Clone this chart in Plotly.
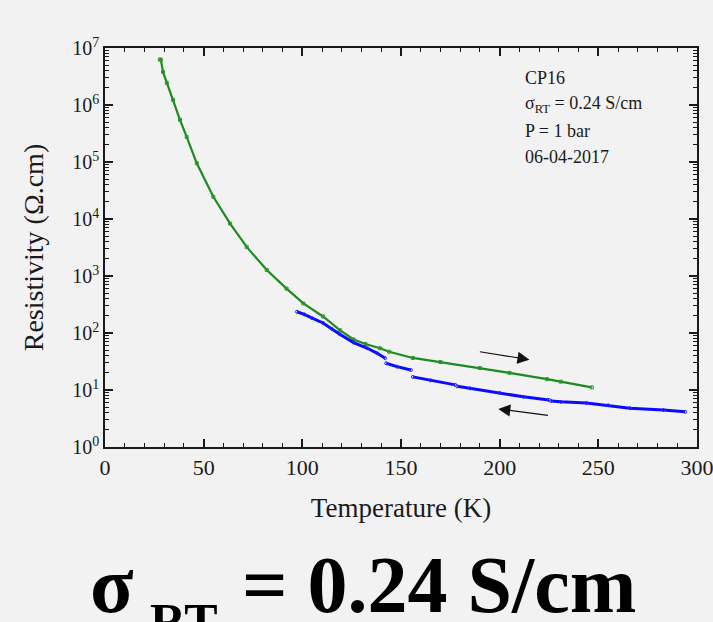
import plotly.graph_objects as go

# ---- data ----
green_T = [27.8, 28.3, 29.4, 31.3, 34.5, 38.0, 41.4, 46.5, 54.9, 63.4, 71.8, 82.0, 92.0,
           100.5, 110.5, 119.0, 126.0, 132.0, 139.4, 144.0, 156.0, 170.0, 190.0, 205.0,
           224.0, 231.0, 246.7]
green_rho = [6.3e6, 6.2e6, 3.8e6, 2.45e6, 1.23e6, 5.5e5, 2.75e5, 9.5e4, 2.45e4, 8.3e3,
             3.24e3, 1.27e3, 6.0e2, 3.3e2, 1.95e2, 1.12e2, 77, 64, 54, 47, 36.5, 31,
             24.3, 20, 15.5, 14.0, 11.1]

blue_T = [97.3, 101.0, 105.0, 110.5, 115.0, 119.0, 126.0, 133.0, 138.0, 142.0, None,
          142.5, 148.0, 155.0, None,
          156.0, 165.0, 177.5, None,
          178.5, 185.0, 200.0, 212.0, 225.0, None,
          226.0, 231.0, 244.0, 255.0, 266.0, 283.0, 294.0]
blue_rho = [236, 212, 182, 150, 118, 95, 68, 54, 44, 36, None,
            29.5, 25.7, 22.4, None,
            17.0, 14.8, 12.3, None,
            11.6, 10.7, 8.9, 7.6, 6.7, None,
            6.4, 6.2, 5.9, 5.4, 4.8, 4.45, 4.15]

y_tickvals = [1e0, 1e1, 1e2, 1e3, 1e4, 1e5, 1e6, 1e7]
y_ticktext = ["10<sup>0</sup>", "10<sup>1</sup>", "10<sup>2</sup>", "10<sup>3</sup>",
              "10<sup>4</sup>", "10<sup>5</sup>", "10<sup>6</sup>", "10<sup>7</sup>"]
x_tickvals = [0, 50, 100, 150, 200, 250, 300]

inset_lines = ["CP16", "σ<sub>RT</sub> = 0.24 S/cm", "P = 1 bar", "06-04-2017"]

# arrows (T, log10 rho): tail -> head
arrow_up = dict(tail=(189.2, 1.675), head=(215.1, 1.532))
arrow_down = dict(tail=(225.2, 0.553), head=(199.3, 0.667))

# ---- layout geometry ----
W, H = 713, 622
L, R, T, B = 105, 697, 48, 447
FONT = "Liberation Serif"
BG = "#f2f2f2"
INK = "#1a1a1a"


def px(xp):
    return (xp - L) / (R - L)


def py(yp):
    return (B - yp) / (B - T)


fig = go.Figure()
fig.add_trace(go.Scatter(
    x=green_T, y=green_rho, mode="lines+markers",
    line=dict(color="#1f8a1f", width=2.2),
    marker=dict(symbol="square-open", size=3, color="#2e962e", line=dict(width=1)),
    showlegend=False))
fig.add_trace(go.Scatter(
    x=blue_T, y=blue_rho, mode="lines+markers", connectgaps=False,
    line=dict(color="#0a0aff", width=3),
    marker=dict(symbol="circle-open", size=3, color="#2a2aff", line=dict(width=1)),
    showlegend=False))

annotations = []
inset_y = [78, 104, 131, 157]
for t, yy in zip(inset_lines, inset_y):
    annotations.append(dict(
        text=t, xref="paper", yref="paper", x=px(523), y=py(yy),
        xanchor="left", yanchor="middle", showarrow=False,
        font=dict(family=FONT, size=18, color=INK)))

for a in (arrow_up, arrow_down):
    annotations.append(dict(
        x=a["head"][0], y=a["head"][1], ax=a["tail"][0], ay=a["tail"][1],
        xref="x", yref="y", axref="x", ayref="y", text="", showarrow=True,
        arrowhead=2, arrowsize=2, arrowwidth=1.2, arrowcolor="#111"))

# big bottom caption
big = 80
annotations.append(dict(text="<b>σ</b>", xref="paper", yref="paper",
                        x=px(88), y=py(585), xanchor="left", yanchor="middle",
                        showarrow=False, font=dict(family=FONT, size=big, color="black")))
annotations.append(dict(text="<b>RT</b>", xref="paper", yref="paper",
                        x=px(148), y=py(621), xanchor="left", yanchor="middle",
                        showarrow=False, font=dict(family=FONT, size=50, color="black")))
annotations.append(dict(text="<b>= 0.24 S/cm</b>", xref="paper", yref="paper",
                        x=px(240), y=py(585), xanchor="left", yanchor="middle",
                        showarrow=False, font=dict(family=FONT, size=big, color="black")))

fig.update_layout(
    width=W, height=H,
    margin=dict(l=L, r=W - R, t=T, b=H - B, autoexpand=False),
    paper_bgcolor=BG, plot_bgcolor=BG,
    font=dict(family=FONT, size=20, color=INK),
    annotations=annotations,
)
fig.update_xaxes(
    range=[0, 300], tickmode="array", tickvals=x_tickvals,
    ticks="inside", ticklen=8, tickwidth=1.5, tickcolor=INK,
    showline=True, linecolor=INK, linewidth=1.5, mirror="allticks",
    showgrid=False, zeroline=False, ticklabeloverflow="allow", automargin=False,
    minor=dict(ticks="inside", ticklen=4, tickwidth=1.2, dtick=10, tickcolor=INK, showgrid=False),
    title=dict(text="Temperature (K)", font=dict(size=27), standoff=19),
    tickfont=dict(size=22),
)
fig.update_yaxes(
    type="log", range=[0, 7], tickmode="array", tickvals=y_tickvals, ticktext=y_ticktext,
    ticks="inside", ticklen=8, tickwidth=1.5, tickcolor=INK,
    showline=True, linecolor=INK, linewidth=1.5, mirror="allticks",
    showgrid=False, zeroline=False, ticklabeloverflow="allow", automargin=False,
    minor=dict(ticks="inside", ticklen=4, tickwidth=1.2, dtick="D1", tickcolor=INK, showgrid=False),
    title=dict(text="Resistivity (Ω.cm)", font=dict(size=28), standoff=20),
    tickfont=dict(size=20),
)

fig.write_html(
    "out.html",
    config={"displayModeBar": False},
    post_script="document.body.style.margin='0';document.body.style.background='#f2f2f2';",
)
